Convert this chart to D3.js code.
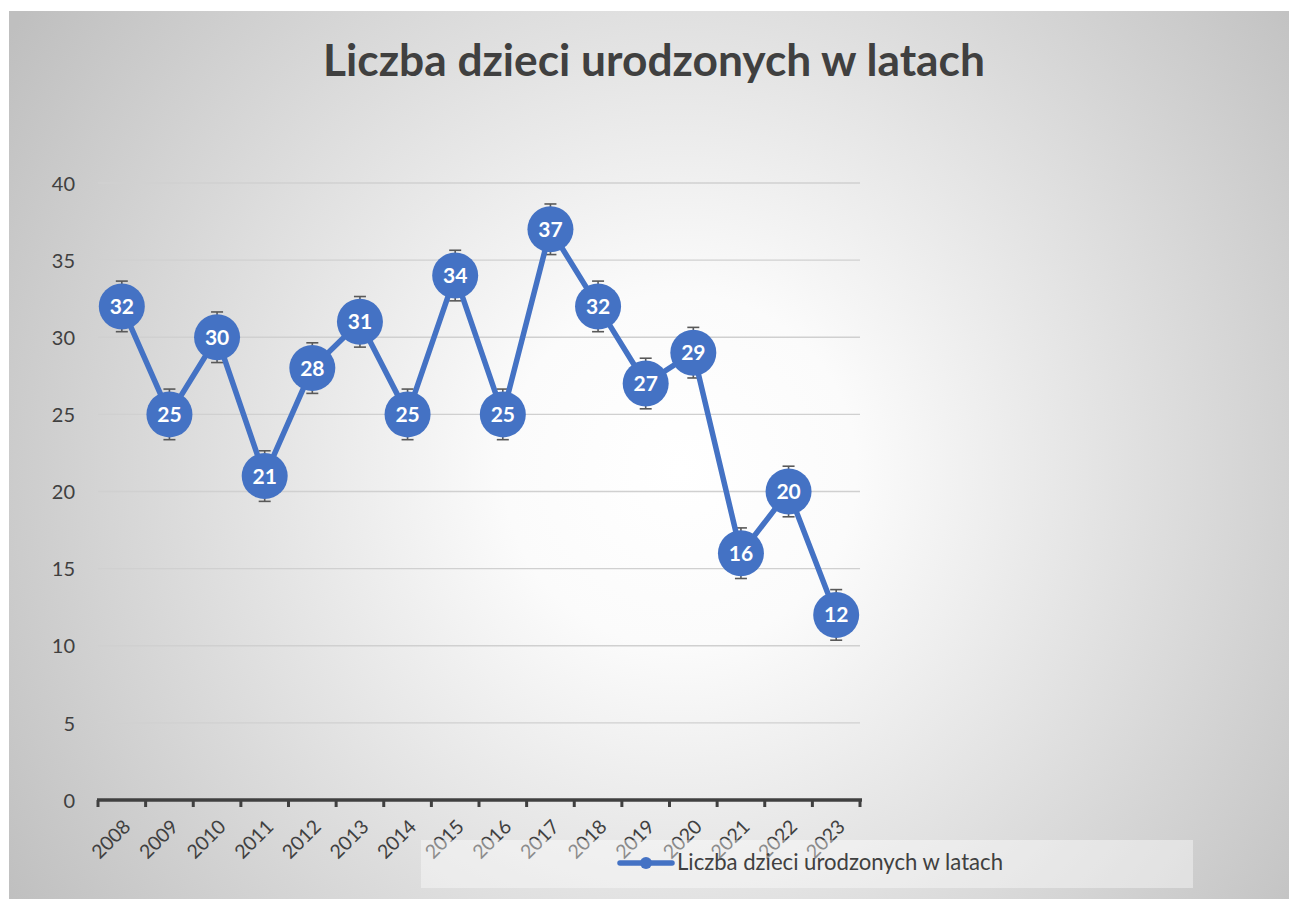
<!DOCTYPE html>
<html>
<head>
<meta charset="utf-8">
<script src="https://cdn.jsdelivr.net/npm/d3@7"></script>
<style>
  html, body { margin: 0; padding: 0; background: #ffffff; }
  svg { display: block; }
</style>
</head>
<body>
<svg id="chart" width="1289" height="899"></svg>
<script>
const title = "Liczba dzieci urodzonych w latach";
const seriesName = "Liczba dzieci urodzonych w latach";
const years = ["2008","2009","2010","2011","2012","2013","2014","2015","2016","2017","2018","2019","2020","2021","2022","2023"];
const births = [32, 25, 30, 21, 28, 31, 25, 34, 25, 37, 32, 27, 29, 16, 20, 12];
const yTicks = [0, 5, 10, 15, 20, 25, 30, 35, 40];
const errorMargin = 1.64;

const svg = d3.select("#chart");
const font = "Lato, 'Open Sans', sans-serif";
const blue = "#4472C4";
const textCol = "#404040";

// background
const defs = svg.append("defs");
const grad = defs.append("radialGradient").attr("id", "bg")
  .attr("gradientUnits", "userSpaceOnUse")
  .attr("cx", 680).attr("cy", 470).attr("r", 800);
grad.append("stop").attr("offset", 0).attr("stop-color", "#ffffff");
grad.append("stop").attr("offset", 0.22).attr("stop-color", "#fbfbfb");
grad.append("stop").attr("offset", 1).attr("stop-color", "#bfbfbf");
svg.append("rect").attr("x", 9).attr("y", 11).attr("width", 1280).attr("height", 888)
  .attr("fill", "url(#bg)");

// scales
const x = d3.scaleBand().domain(years).range([98, 860]).padding(0);
const y = d3.scaleLinear().domain([0, 40]).range([800, 183]);
const cx = d => x(d) + x.bandwidth() / 2;

// gridlines
svg.append("g").selectAll("line").data(yTicks.filter(t => t > 0)).join("line")
  .attr("x1", 98).attr("x2", 860)
  .attr("y1", d => y(d)).attr("y2", d => y(d))
  .attr("stroke", "#d0d0d0").attr("stroke-width", 1.3);

// y axis labels
const yAxis = d3.axisLeft(y).tickValues(yTicks).tickSize(0).tickPadding(0);
const yg = svg.append("g").attr("transform", "translate(75,0)").call(yAxis);
yg.select(".domain").remove();
yg.selectAll("text").attr("font-family", font).attr("font-size", 20)
  .attr("fill", textCol).attr("text-anchor", "end").attr("dy", "0.36em");

// x axis
const xAxis = d3.axisBottom(x).tickSize(0).tickFormat("");
const xg = svg.append("g").attr("transform", "translate(0,800)").call(xAxis);
xg.select(".domain").remove();
xg.append("line").attr("x1", 97).attr("x2", 862).attr("y1", 0).attr("y2", 0)
  .attr("stroke", textCol).attr("stroke-width", 3.5);
const bounds = years.map(d => x(d)).concat([x(years[years.length - 1]) + x.bandwidth()]);
xg.selectAll(".bt").data(bounds).join("line").attr("class", "bt")
  .attr("x1", d => d).attr("x2", d => d).attr("y1", 0).attr("y2", 7)
  .attr("stroke", textCol).attr("stroke-width", 3);

svg.append("g").selectAll("text").data(years).join("text")
  .attr("transform", d => `translate(${cx(d) + 10},828) rotate(-45)`)
  .attr("text-anchor", "end")
  .attr("font-family", font).attr("font-size", 19.5).attr("fill", textCol)
  .text(d => d);

// error bars
const eb = svg.append("g").attr("stroke", "#595959").attr("stroke-width", 1.6);
births.forEach((v, i) => {
  const xx = cx(years[i]);
  eb.append("line").attr("x1", xx).attr("x2", xx).attr("y1", y(v + errorMargin)).attr("y2", y(v - errorMargin));
  [v + errorMargin, v - errorMargin].forEach(e => {
    eb.append("line").attr("x1", xx - 6).attr("x2", xx + 6).attr("y1", y(e)).attr("y2", y(e));
  });
});

// line
const line = d3.line().x((d, i) => cx(years[i])).y(d => y(d));
svg.append("path").datum(births).attr("d", line)
  .attr("fill", "none").attr("stroke", blue).attr("stroke-width", 5.5)
  .attr("stroke-linejoin", "round").attr("stroke-linecap", "round");

// markers
svg.append("g").selectAll("circle").data(births).join("circle")
  .attr("cx", (d, i) => cx(years[i])).attr("cy", d => y(d)).attr("r", 23)
  .attr("fill", blue);

// labels
svg.append("g").selectAll("text").data(births).join("text")
  .attr("x", (d, i) => cx(years[i])).attr("y", d => y(d)).attr("dy", "0.36em")
  .attr("text-anchor", "middle").attr("font-family", font).attr("font-weight", "bold")
  .attr("font-size", 21).attr("fill", "#ffffff")
  .text(d => d);

// legend
svg.append("rect").attr("x", 421).attr("y", 840).attr("width", 772).attr("height", 48)
  .attr("fill", "#ffffff").attr("fill-opacity", 0.4);
svg.append("line").attr("x1", 620).attr("x2", 672).attr("y1", 863).attr("y2", 863)
  .attr("stroke", blue).attr("stroke-width", 5.5).attr("stroke-linecap", "round");
svg.append("circle").attr("cx", 646).attr("cy", 863).attr("r", 6).attr("fill", blue);
const lt = svg.append("text").attr("x", 677).attr("y", 870)
  .attr("font-family", font).attr("font-size", 20).attr("fill", textCol)
  .text(seriesName);
const lw = lt.node().getComputedTextLength();
lt.attr("font-size", 20 * 326 / lw);

// title
const t = svg.append("text").attr("x", 654).attr("y", 76).attr("text-anchor", "middle")
  .attr("font-family", font).attr("font-weight", "bold").attr("font-size", 40)
  .attr("fill", textCol).text(title);
const w = t.node().getComputedTextLength();
t.attr("font-size", 40 * 662 / w);
</script>
</body>
</html>
